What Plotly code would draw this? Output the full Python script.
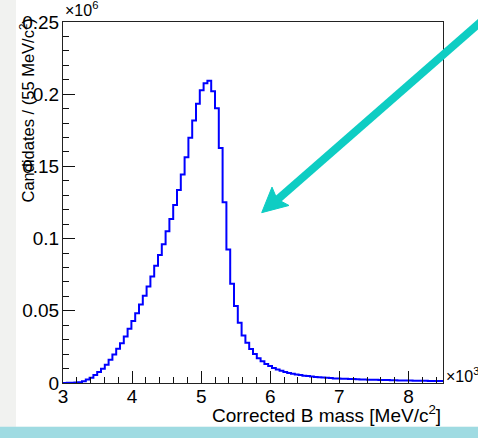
import plotly.graph_objects as go

# ---- data (units: x in 10^3 MeV/c^2, y in 10^6 candidates) ----
x_low = 3.0
bin_width = 0.055
counts = [
    0.0, 0.0001, 0.0002, 0.0004, 0.0006, 0.0012, 0.0025, 0.0037, 0.0055, 0.0076,
    0.0099, 0.0126, 0.0161, 0.0198, 0.0237, 0.0276, 0.0322, 0.0375, 0.0430, 0.0483,
    0.0543, 0.0605, 0.0669, 0.0738, 0.0812, 0.0887, 0.0961, 0.1051, 0.1136, 0.1232,
    0.1336, 0.1444, 0.1563, 0.1698, 0.1818, 0.1934, 0.2027, 0.2076, 0.2094, 0.2021,
    0.1903, 0.1628, 0.1251, 0.0924, 0.0687, 0.0533, 0.0418, 0.0329, 0.0278, 0.0235,
    0.0200, 0.0172, 0.0150, 0.0132, 0.0117, 0.0104, 0.0094, 0.0085, 0.0077, 0.0070,
    0.0064, 0.0059, 0.0055, 0.0051, 0.0048, 0.0045, 0.0042, 0.0040, 0.0038, 0.0036,
    0.0034, 0.0032, 0.0031, 0.0030, 0.0029, 0.0028, 0.0027, 0.0026, 0.0025, 0.0024,
    0.0023, 0.0023, 0.0022, 0.0021, 0.0021, 0.0020, 0.0019, 0.0019, 0.0018, 0.0018,
    0.0017, 0.0017, 0.0016, 0.0016, 0.0015, 0.0015, 0.0014, 0.0014, 0.0013, 0.0013,
]
x_tick_vals = [3, 4, 5, 6, 7, 8]
x_tick_text = ["3", "4", "5", "6", "7", "8"]
y_tick_vals = [0, 0.05, 0.1, 0.15, 0.2, 0.25]
y_tick_text = ["0", "0.05", "0.1", "0.15", "0.2", "0.25"]
x_title = "Corrected B mass [MeV/c<sup>2</sup>]"
y_title = "Candidates / (55 MeV/c<sup>2</sup>)"

edges = [x_low + bin_width * i for i in range(len(counts) + 1)]
step_y = counts + [counts[-1]]

# ---- layout geometry (pixels) ----
W, H = 478, 438
ML, MR, MT, MB = 63, 35, 20, 55
PW, PH = W - ML - MR, H - MT - MB


def px(xp):
    return (xp - ML) / PW


def py(yp):
    return 1 - (yp - MT) / PH


FONT = "Liberation Sans, Arial, Helvetica, sans-serif"
ARROW = "#0ecdc3"

fig = go.Figure()
fig.add_trace(go.Scatter(
    x=edges, y=step_y, mode="lines", line=dict(shape="hv", color="#0000ff", width=2),
    hoverinfo="skip", showlegend=False,
))

axis_common = dict(
    showgrid=False, zeroline=False, showline=True, mirror=True,
    linecolor="#222222", linewidth=1, ticks="inside", ticklen=12, tickwidth=1,
    tickcolor="#111111", tickfont=dict(family=FONT, size=19, color="black"),
)
fig.update_xaxes(range=[edges[0], edges[-1]], tickvals=x_tick_vals, ticktext=x_tick_text,
                 minor=dict(dtick=0.2, ticklen=6, tickcolor="#111111", ticks="inside"),
                 ticklabelstandoff=-4, **axis_common)
fig.update_yaxes(range=[0, 0.25], tickvals=y_tick_vals, ticktext=y_tick_text,
                 minor=dict(dtick=0.01, ticklen=6, tickcolor="#111111", ticks="inside"),
                 ticklabelstandoff=-1, **axis_common)

shapes = [
    # slide backdrop
    dict(type="rect", xref="paper", yref="paper", x0=px(16), x1=px(W + 2), y0=py(427), y1=py(-2),
         fillcolor="white", line=dict(width=0), layer="below"),
    dict(type="rect", xref="paper", yref="paper", x0=px(-2), x1=px(W + 2), y0=py(H + 2), y1=py(427),
         fillcolor="#9fdbe2", line=dict(width=0), layer="below"),
    # arrow shaft
    dict(type="line", xref="paper", yref="paper", x0=px(492), y0=py(10), x1=px(277), y1=py(199),
         line=dict(color=ARROW, width=8)),
    # arrow head
    dict(type="path", xref="paper", yref="paper",
         path=(f"M {px(261.7)} {py(211.7)} L {px(272)} {py(186)} L {px(277)} {py(198)} "
               f"L {px(289)} {py(204.5)} Z"),
         fillcolor=ARROW, line=dict(color=ARROW, width=1)),
]

annotations = [
    dict(text=x_title, xref="paper", yref="paper", x=1.0, y=py(428), xanchor="right", yanchor="bottom",
         showarrow=False, font=dict(family=FONT, size=19, color="black")),
    dict(text=y_title, xref="paper", yref="paper", x=px(27.5), y=py(204), xanchor="center",
         yanchor="bottom", textangle=-90, showarrow=False,
         font=dict(family=FONT, size=16.5, color="black")),
    dict(text="×10<sup>6</sup>", xref="paper", yref="paper", x=0, y=py(19), xanchor="left",
         yanchor="bottom", showarrow=False, font=dict(family=FONT, size=16, color="black")),
    dict(text="×10<sup>3</sup>", xref="paper", yref="paper", x=px(444), y=py(387), xanchor="left",
         yanchor="bottom", showarrow=False, font=dict(family=FONT, size=16, color="black")),
]

fig.update_layout(
    width=W, height=H, margin=dict(l=ML, r=MR, t=MT, b=MB),
    paper_bgcolor="#f1f2f0", plot_bgcolor="white",
    shapes=shapes, annotations=annotations, showlegend=False,
)

fig.write_html("out.html")
